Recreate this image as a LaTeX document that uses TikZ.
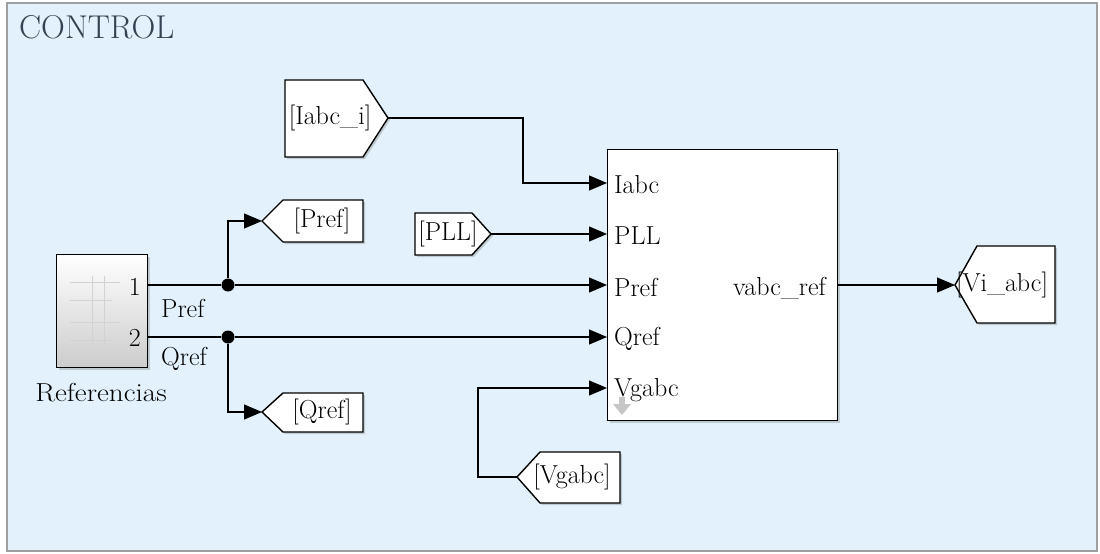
\documentclass[tikz,border=0pt]{standalone}
\usetikzlibrary{arrows.meta,shadows,calc}
\definecolor{bgblue}{RGB}{226,241,252}
\definecolor{ctltext}{RGB}{52,66,82}
\begin{document}
\begin{tikzpicture}[x=1pt,y=-1pt,
  every node/.style={font=\fontsize{26}{30}\selectfont, inner sep=0pt, text=black},
  blk/.style={draw=black, line width=1.4pt, fill=white, drop shadow={shadow xshift=2pt,shadow yshift=-2pt,opacity=0.35}},
  wire/.style={line width=1.2pt},
  arr/.style={wire,-{Triangle[length=18pt,width=15pt]}},
  jdot/.style={circle,fill=black,minimum size=13pt,inner sep=0pt}]
% canvas and frame
\fill[white] (0,0) rectangle (1100,554);
\draw[draw=gray!75, fill=bgblue, line width=1.2pt] (7,3) rectangle (1097,551);
\node[anchor=west, text=ctltext, font=\fontsize{33}{38}\selectfont] (title) at (19,27) {CONTROL};

% Referencias subsystem
\node[blk, top color=white, bottom color=black!20, minimum width=91pt, minimum height=113pt, anchor=north west] (ref) at (56,254) {};
\begin{scope}[draw=gray!35, line width=0.6pt]
  \draw (70,282) -- (120,282); \draw (70,300) -- (112,300);
  \draw (70,322) -- (120,322); \draw (70,340) -- (112,340);
  \draw (92,276) -- (92,345); \draw (104,276) -- (104,345);
\end{scope}
\node[anchor=east] (p1) at (141,287) {1};
\node[anchor=east] (p2) at (141,338) {2};
\coordinate (o1) at (147,285);
\coordinate (o2) at (147,337);
\node[xscale=1.12] (reflab) at (101,393) {Referencias};
\node[anchor=west] (lp) at (161,308) {Pref};
\node[anchor=west] (lq) at (161,359) {Qref};

% junctions
\node[jdot] (j1) at (228,285) {};
\node[jdot] (j2) at (228,337) {};

% main control block
\node[blk, minimum width=230pt, minimum height=271pt, anchor=north west] (ctrl) at (607,149) {};
\coordinate (in1) at (607,183);
\coordinate (in2) at (607,234);
\coordinate (in3) at (607,285);
\coordinate (in4) at (607,337);
\coordinate (in5) at (607,388);
\coordinate (out) at (837,285);
\node[anchor=west] (l1) at (614,185) {Iabc};
\node[anchor=west] (l2) at (614,236) {PLL};
\node[anchor=west] (l3) at (614,287) {Pref};
\node[anchor=west] (l4) at (614,339) {Qref};
\node[anchor=west] (l5) at (614,390) {Vgabc};
\node[anchor=east] (lo) at (826,288) {vabc\_ref};
\fill[gray!45] (619,397) rectangle (625,405);
\fill[gray!45] (613,404) -- (631,404) -- (622,415) -- cycle;

% From tags (point right)
\draw[blk] (285,80) -- (363,80) -- (388,118) -- (363,157) -- (285,157) -- cycle;
\node (fIabc) at (330,118) {[Iabc\_i]};
\coordinate (tipI) at (388,118);

\draw[blk] (415,213) -- (472,213) -- (491,234) -- (472,255) -- (415,255) -- cycle;
\node (fPLL) at (448,234) {[PLL]};
\coordinate (tipP) at (491,234);

% Goto / From tags (point left)
\draw[blk] (262,221) -- (283,200) -- (363,200) -- (363,242) -- (283,242) -- cycle;
\node (gPref) at (322,221) {[Pref]};
\coordinate (tipPr) at (262,221);

\draw[blk] (262,412) -- (283,393) -- (363,393) -- (363,432) -- (283,432) -- cycle;
\node (gQref) at (322,412) {[Qref]};
\coordinate (tipQr) at (262,412);

\draw[blk] (955,285) -- (977,246) -- (1055,246) -- (1055,323) -- (977,323) -- cycle;
\node (gVi) at (1002,285) {[Vi\_abc]};
\coordinate (tipVi) at (955,285);

\draw[blk] (517,477) -- (540,452) -- (620,452) -- (620,503) -- (540,503) -- cycle;
\node (fVg) at (572,477) {[Vgabc]};
\coordinate (tipVg) at (517,477);

% wires
\draw[wire] (o1) -- (j1);
\draw[arr] (j1) -- (in3);
\draw[arr] (j1) |- (tipPr);
\draw[wire] (o2) -- (j2);
\draw[arr] (j2) -- (in4);
\draw[arr] (j2) |- (tipQr);
\draw[arr] (tipI) -- ++(135,0) |- (in1);
\draw[arr] (tipP) -- (in2);
\draw[arr] (tipVg) -- ++(-39,0) |- (in5);
\draw[arr] (out) -- (tipVi);
\end{tikzpicture}
\end{document}
